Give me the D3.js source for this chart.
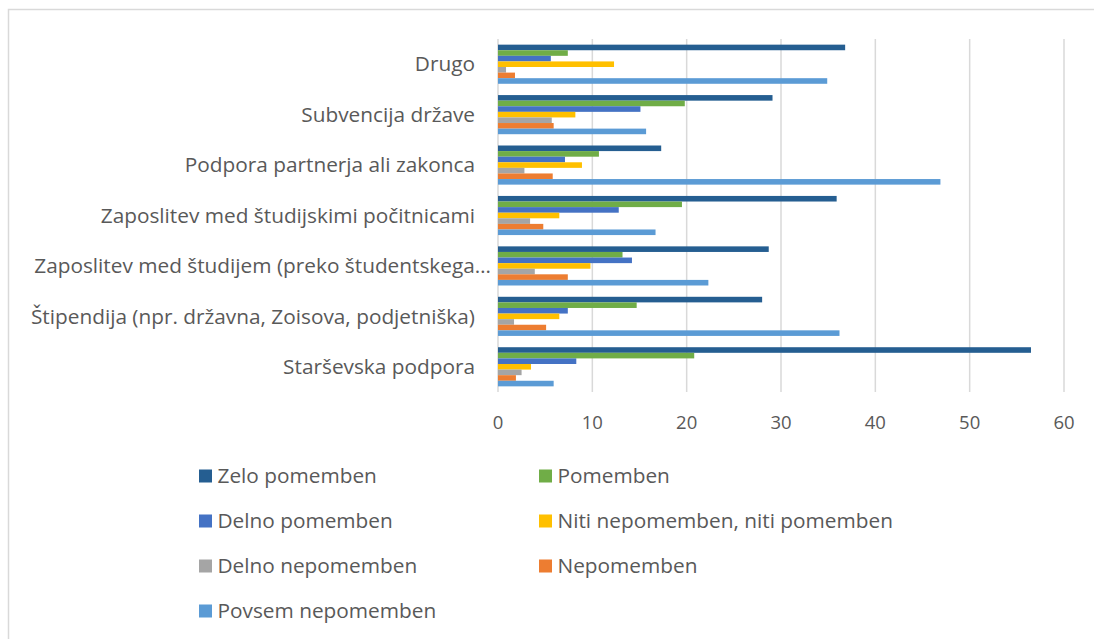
<!DOCTYPE html>
<html>
<head>
<meta charset="utf-8">
<script src="https://cdn.jsdelivr.net/npm/d3@7"></script>
<style>
	body { margin: 0; background: #fff; }
	svg { display: block; font-family: 'Open Sans', Lato, sans-serif; }
	.cat-label, .legend-label { fill: #595959; font-size: 20.8px; }
	.tick-label { fill: #595959; font-size: 18.5px; }
</style>
</head>
<body>
<div id="chart"></div>
<script>
// categories from top to bottom
const categories = [
	'Drugo',
	'Subvencija države',
	'Podpora partnerja ali zakonca',
	'Zaposlitev med študijskimi počitnicami',
	'Zaposlitev med študijem (preko študentskega…',
	'Štipendija (npr. državna, Zoisova, podjetniška)',
	'Starševska podpora'
];
const seriesNames = [
	'Zelo pomemben',
	'Pomemben',
	'Delno pomemben',
	'Niti nepomemben, niti pomemben',
	'Delno nepomemben',
	'Nepomemben',
	'Povsem nepomemben'
];
const seriesColors = ['#255E91', '#70AD47', '#4472C4', '#FFC000', '#A5A5A5', '#ED7D31', '#5B9BD5'];

// values per series, same order as categories
const zeloPomemben = [36.8, 29.1, 17.3, 35.9, 28.7, 28.0, 56.5];
const pomemben = [7.4, 19.8, 10.7, 19.5, 13.2, 14.7, 20.8];
const delnoPomemben = [5.6, 15.1, 7.1, 12.8, 14.2, 7.4, 8.3];
const nitiNiti = [12.3, 8.2, 8.9, 6.5, 9.8, 6.5, 3.5];
const delnoNepomemben = [0.85, 5.7, 2.8, 3.4, 3.9, 1.7, 2.5];
const nepomemben = [1.8, 5.9, 5.8, 4.8, 7.4, 5.1, 1.9];
const povsemNepomemben = [34.9, 15.7, 46.9, 16.7, 22.3, 36.2, 5.9];
const xTicks = [0, 10, 20, 30, 40, 50, 60];

const seriesValues = [zeloPomemben, pomemben, delnoPomemben, nitiNiti, delnoNepomemben, nepomemben, povsemNepomemben];

const width = 1094;
const height = 639;

const svg = d3.select('#chart').append('svg').attr('width', width).attr('height', height);

// outer chart frame (runs off the right and bottom edges)
svg.append('rect')
	.attr('x', 8.5).attr('y', 9.5)
	.attr('width', 1100).attr('height', 650)
	.attr('fill', 'none').attr('stroke', '#d9d9d9').attr('stroke-width', 1.5);

const xScale = d3.scaleLinear().domain([0, 60]).range([498, 1064]);
const yScale = d3.scaleBand().domain(categories).range([39, 392]).paddingInner(0.224).paddingOuter(0.112);
const ySub = d3.scaleBand().domain(seriesNames).range([0, yScale.bandwidth()]);

// gridlines
svg.append('g')
	.selectAll('line')
	.data(xTicks)
	.enter()
	.append('line')
	.attr('x1', (d) => xScale(d)).attr('x2', (d) => xScale(d))
	.attr('y1', 39).attr('y2', 392)
	.attr('stroke', '#d9d9d9').attr('stroke-width', 1.5);

// tick labels
svg.append('g')
	.selectAll('text')
	.data(xTicks)
	.enter()
	.append('text')
	.attr('class', 'tick-label')
	.attr('x', (d) => xScale(d))
	.attr('y', 423)
	.attr('dy', '0.35em')
	.style('text-anchor', 'middle')
	.text((d) => d);

// bars
const groups = svg.append('g')
	.selectAll('g')
	.data(categories)
	.enter()
	.append('g')
	.attr('transform', (d) => `translate(0,${yScale(d)})`);

groups.selectAll('rect')
	.data((d, i) => seriesNames.map((s, j) => ({ s: s, v: seriesValues[j][i], c: seriesColors[j] })))
	.enter()
	.append('rect')
	.attr('x', xScale(0))
	.attr('y', (d) => ySub(d.s))
	.attr('width', (d) => xScale(d.v) - xScale(0))
	.attr('height', ySub.bandwidth())
	.attr('fill', (d) => d.c);

// category labels (the truncated one sits a bit further right, like in Excel)
svg.append('g')
	.selectAll('text')
	.data(categories)
	.enter()
	.append('text')
	.attr('class', 'cat-label')
	.attr('x', (d) => (d.endsWith('…') ? 491 : 475))
	.attr('y', (d) => yScale(d) + yScale.bandwidth() / 2)
	.attr('dy', '0.35em')
	.style('text-anchor', 'end')
	.text((d) => d);

// legend, two columns
const legend = svg.append('g')
	.selectAll('g')
	.data(seriesNames)
	.enter()
	.append('g')
	.attr('transform', (d, i) => `translate(${i % 2 === 0 ? 199 : 539},${476 + Math.floor(i / 2) * 45})`);

legend.append('rect')
	.attr('x', 0).attr('y', -6.5)
	.attr('width', 13).attr('height', 13)
	.attr('fill', (d, i) => seriesColors[i]);

legend.append('text')
	.attr('class', 'legend-label')
	.attr('x', 18.5)
	.attr('dy', '0.35em')
	.text((d) => d);
</script>
</body>
</html>
